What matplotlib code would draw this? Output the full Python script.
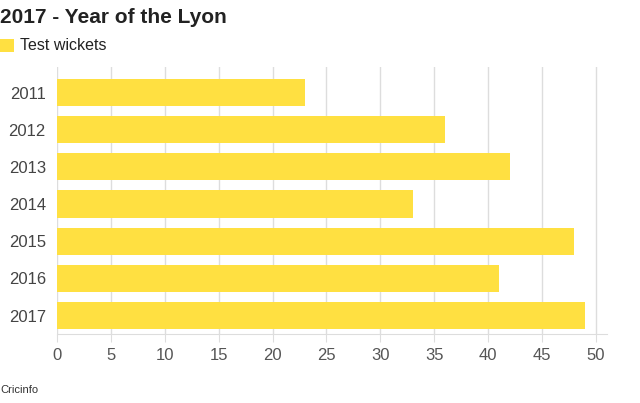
import matplotlib

matplotlib.use("Agg")

import matplotlib.pyplot as plt
from matplotlib.patches import Rectangle

years = ["2011", "2012", "2013", "2014", "2015", "2016", "2017"]
wickets = [23, 36, 42, 33, 48, 41, 49]
x_ticks = [0, 5, 10, 15, 20, 25, 30, 35, 40, 45, 50]

bar_color = "#FFE041"
text_color = "#222222"

plt.rcParams["font.family"] = ["Liberation Sans", "DejaVu Sans"]

fig = plt.figure(figsize=(6.4, 4.03), dpi=100)
ax = fig.add_axes([0.089, 0.171, 0.859, 0.663])

positions = list(range(len(years)))
ax.barh(positions, wickets, height=0.73, color=bar_color, zorder=2)
ax.set_yticks(positions)
ax.set_yticklabels(years)
ax.set_ylim(len(years) - 0.5, -0.69)
ax.set_xlim(0, 51)
ax.set_xticks(x_ticks)

ax.grid(True, axis="x", color="#dddddd", linewidth=1, zorder=0)
ax.grid(False, axis="y")
for side in ("top", "right", "left"):
    ax.spines[side].set_visible(False)
ax.spines["bottom"].set_color("#dddddd")
ax.tick_params(axis="y", length=0, pad=8, labelsize=12, labelcolor="#444444")
ax.tick_params(axis="x", length=6, color="#dddddd", pad=4, labelsize=12, labelcolor="#555555")

fig.text(0.0, 0.957, "2017 - Year of the Lyon", fontsize=15, fontweight="bold",
         color=text_color, ha="left", va="center")
fig.patches.append(Rectangle((0.0, 0.871), 14 / 640, 13 / 403, transform=fig.transFigure,
                             facecolor=bar_color, edgecolor="none"))
fig.text(20 / 640, 0.886, "Test wickets", fontsize=11.5, color=text_color,
         ha="left", va="center")
fig.text(0.0, 0.032, "Cricinfo", fontsize=8, color="#333333", ha="left", va="center")

fig.savefig("out.png", dpi=100)
